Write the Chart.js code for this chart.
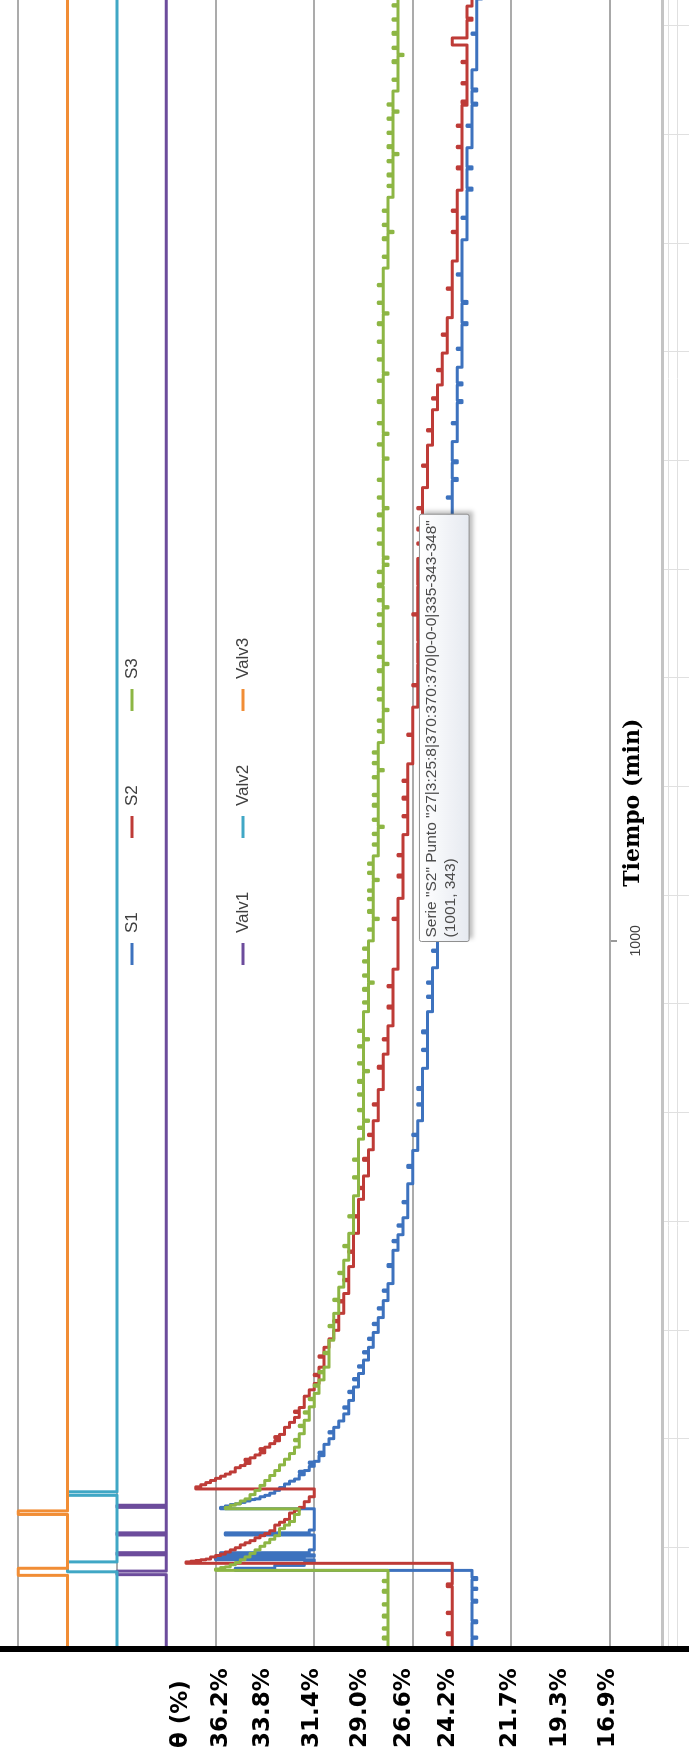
<!DOCTYPE html>
<html lang="es">
<head>
<meta charset="UTF-8">
<title>Humedad θ (%) frente a tiempo</title>
<script src="https://cdn.jsdelivr.net/npm/chart.js"></script>
<style>
  html, body { margin: 0; padding: 0; background: #fff; overflow: hidden; }
  body { width: 689px; height: 1760px; position: relative; }
  /* chart is laid out landscape, then turned a quarter turn to the left */
  #wrap {
    position: absolute; left: 0; top: 0;
    width: 1805px; height: 689px;
    transform-origin: 0 0;
    transform: translate(0, 1760px) rotate(-90deg);
  }
  #wrap canvas { display: block; }
</style>
</head>
<body>
<div id="wrap"><canvas id="chart" width="1805" height="689"></canvas></div>

<script>
// [tiempo (min), lectura] -- each point holds until the next one
const s1 = [[0,328],[15,327],[17,328],[37,327],[40,328],[66,327],[69,328],[84,327],[86,328],
  [98,327],[101,328],
  [111,376],[114,368],[118,362],[122,360],[126,380],[129,362],[131,360],
  [133,379],[136,361],[140,360],[161,378],[164,361],[168,360],
  [198,379],[200,378],[202,377],[204,376],[205,375],[207,374],[209,373],[211,372],[212,371],
  [215,370],[217,369],[220,368],[224,367],[228,366],[233,365],[237,364],[240,363],[246,362],
  [249,363],[251,362],[252,361],[258,360],[262,361],[264,360],[265,359],[273,358],[276,359],
  [278,358],[289,357],[297,356],[305,357],[307,356],[313,355],[322,354],[332,353],[340,354],
  [342,353],[351,352],[362,353],[364,352],[370,351],[380,352],[382,351],[389,350],[398,351],
  [400,350],[408,349],[418,350],[420,349],[426,348],[437,349],[439,348],[447,347],[458,348],
  [460,347],[468,346],[480,347],[482,346],[492,345],[505,346],[507,345],[516,344],[540,345],
  [543,344],[563,343],[575,344],[577,343],[585,342],[597,343],[599,342],[609,341],[630,342],
  [632,341],[657,340],[680,341],[683,340],[704,339],[725,340],[727,339],[746,338],[768,339],
  [770,338],[790,339],[793,338],[820,337],[845,338],[847,337],[870,338],[873,337],[900,336],
  [920,337],[922,336],[940,337],[942,336],[962,335],[985,336],[987,335],[1100,334],[1350,333],
  [1600,332],[1625,333],[1627,332],[1650,331],[1653,332],[1675,331],[1678,332],[1705,331],
  [1730,332],[1732,331],[1760,330],[1763,331],[1785,330],[1788,331],[1810,330],[1835,331],
  [1837,330],[1870,329],[1873,330],[1900,329],[1903,330],[1940,331],[1942,330],[1990,329],
  [2020,330],[2022,329],[2060,328],[2063,329],[2090,328],[2093,329],[2120,328],[2150,329],
  [2152,328],[2180,327],[2183,328],[2200,327],[2203,328],[2230,327],[2280,328],[2282,327],
  [2330,326],[2333,327],[2360,326],[2363,327],[2390,327]];

const s2 = [[0,332],[20,333],[23,332],[50,333],[52,332],[88,333],[92,332],
  [121,386],[123,385],[124,384],[125,383],[126,382],[127,381],[130,380],[132,379],[134,378],
  [137,377],[140,376],[143,375],[147,374],[150,373],[153,372],[157,371],[160,370],[163,369],
  [167,368],[175,367],[179,366],[183,365],[192,364],[196,363],[200,362],[208,361],[215,360],
  [226,384],[229,383],[232,382],[235,381],[238,380],[241,379],[244,378],[247,377],[250,376],
  [256,375],[259,374],[262,373],[266,374],[268,373],[270,372],[274,371],[277,370],[281,371],
  [283,370],[285,369],[290,368],[294,367],[298,368],[300,367],[303,366],[313,365],[320,364],
  [327,363],[334,364],[336,363],[341,362],[357,361],[366,360],[375,359],[386,360],[388,359],
  [398,358],[412,359],[414,358],[426,357],[438,356],[450,355],[462,356],[464,355],[474,354],
  [490,355],[492,354],[502,353],[520,354],[522,353],[540,352],[560,353],[562,352],[587,351],
  [610,352],[612,351],[635,350],[650,351],[652,350],[668,349],[690,350],[693,349],[705,348],
  [725,349],[727,348],[746,347],[768,348],[770,347],[790,346],[820,347],[823,346],[840,345],
  [860,346],[862,345],[880,344],[905,345],[908,344],[935,345],[937,344],[960,343],[1001,343],
  [1030,344],[1032,343],[1060,342],[1090,343],[1093,342],[1120,343],[1122,342],[1150,341],
  [1175,342],[1177,341],[1200,342],[1203,341],[1225,342],[1227,341],[1250,340],[1290,341],
  [1292,340],[1330,339],[1360,340],[1362,339],[1390,338],[1393,339],[1420,338],[1424,339],
  [1460,340],[1462,339],[1500,338],[1503,339],[1540,338],[1560,339],[1562,338],[1580,339],
  [1583,338],[1610,339],[1612,338],[1640,337],[1670,338],[1672,337],[1700,336],[1720,337],
  [1722,336],[1750,335],[1765,336],[1767,335],[1785,334],[1805,335],[1807,334],[1830,333],
  [1855,334],[1857,333],[1880,332],[1920,333],[1922,332],[1960,331],[2000,332],[2002,331],
  [2030,332],[2032,331],[2060,330],[2090,331],[2093,330],[2120,331],[2122,330],[2150,331],
  [2152,330],[2180,329],[2183,330],[2186,329],[2210,330],[2212,329],[2240,330],[2242,329],
  [2265,332],[2275,329],[2300,328],[2303,329],[2320,328],[2340,329],[2342,328],[2370,329],
  [2372,328],[2390,328]];

const s3 = [[0,345],[14,346],[17,345],[28,346],[30,345],[45,346],[48,345],[62,346],[64,345],
  [80,346],[83,345],[95,346],[97,345],
  [111,380],[113,379],[115,378],[116,377],[119,376],[122,375],[126,374],[130,373],[135,372],
  [140,371],[145,370],[150,369],[155,368],[160,367],[170,366],[175,365],[180,364],[190,363],
  [198,378],[200,377],[203,376],[205,375],[209,374],[212,373],[218,372],[224,371],[231,370],
  [238,369],[245,368],[252,367],[260,366],[268,365],[276,364],[285,363],[294,364],[296,363],
  [304,362],[314,363],[316,362],[323,361],[333,362],[335,361],[342,360],[352,361],[354,360],
  [361,359],[371,360],[373,359],[380,358],[390,359],[392,358],[398,357],[417,358],[419,357],
  [436,356],[455,357],[457,356],[474,355],[492,356],[494,355],[511,354],[530,355],[532,354],
  [549,353],[568,354],[570,353],[587,352],[610,353],[612,352],[640,351],[665,352],[667,351],
  [690,352],[692,351],[720,350],
  [735,351],[737,350],[745,349],[747,350],[760,351],[762,350],[782,351],[784,350],[800,351],
  [803,350],[815,349],[817,350],[826,351],[828,350],[850,351],[852,350],[860,349],[862,350],
  [872,351],[874,350],
  [900,349],[912,350],[914,349],[930,350],[933,349],[940,348],[942,349],[950,350],[952,349],
  [970,350],[972,349],[988,350],[990,349],
  [1000,348],[1015,349],[1017,348],[1030,347],[1032,348],[1040,349],[1043,348],[1058,349],
  [1060,348],[1070,349],[1072,348],[1085,347],[1087,348],[1095,349],[1097,348],[1108,349],
  [1110,348],
  [1120,347],[1135,348],[1137,347],[1150,348],[1152,347],[1160,346],[1162,347],[1170,348],
  [1172,347],[1190,348],[1193,347],[1205,348],[1207,347],[1230,348],[1232,347],[1240,346],
  [1242,347],[1250,348],[1252,347],[1265,348],[1267,347],
  [1280,346],[1295,347],[1297,346],[1310,347],[1312,346],[1325,345],[1327,346],[1340,347],
  [1342,346],[1355,347],[1357,346],[1380,347],[1383,346],[1390,345],[1392,346],[1400,347],
  [1402,346],[1420,347],[1422,346],[1445,347],[1447,346],[1460,347],[1462,346],[1470,345],
  [1472,346],[1480,347],[1482,346],[1500,347],[1504,346],[1520,347],[1522,346],[1530,345],
  [1532,346],[1540,345],[1542,346],[1560,347],[1562,346],[1580,347],[1582,346],[1600,347],
  [1603,346],[1610,345],[1612,346],[1625,347],[1627,346],[1650,347],[1652,346],[1680,345],
  [1682,346],[1700,347],[1702,346],[1715,345],[1717,346],[1730,347],[1732,346],[1760,347],
  [1763,346],[1790,347],[1792,346],[1800,345],[1802,346],[1820,347],[1822,346],[1845,347],
  [1847,346],[1870,347],[1873,346],[1885,345],[1887,346],[1900,347],[1902,346],[1925,347],
  [1927,346],
  [1950,345],[1965,346],[1967,345],[1990,346],[1993,345],[2000,344],[2002,345],[2010,346],
  [2012,345],[2030,346],[2032,345],
  [2050,344],[2065,345],[2067,344],[2080,345],[2083,344],[2100,345],[2102,344],[2110,343],
  [2112,344],[2120,345],[2123,344],[2140,345],[2142,344],[2160,345],[2162,344],[2170,343],
  [2172,344],[2180,345],[2182,344],
  [2200,343],[2215,344],[2217,343],[2240,344],[2243,343],[2250,342],[2252,343],[2260,344],
  [2262,343],[2280,344],[2283,343],[2300,344],[2302,343],[2320,344],[2322,343],
  [2340,342],[2355,343],[2357,342],[2375,343],[2377,342],[2390,342]];

const valv1 = [[0,390],[105,400],[110,390],[133,400],[136,390],[161,400],[164,390],
  [200,400],[203,390],[2390,390]];
const valv2 = [[0,400],[109,410],[123,400],[217,410],[222,400],[2390,400]];
const valv3 = [[0,410],[104,420],[114,410],[190,420],[195,410],[2390,410]];

const seriesNames = ['S1', 'S2', 'S3', 'Valv1', 'Valv2', 'Valv3'];
const seriesColors = ['#3D72BE', '#BE3B37', '#8DB644', '#6C4C9C', '#40A7C5', '#F18D35'];

// value axis: grid every 20 counts, moisture labels at their own spots
const gridAt = [300, 320, 340, 360, 380, 400, 420];
const thetaAt = [387, 378.9, 370.4, 360.5, 350.6, 341.7, 332.8, 320.2, 310.1, 300.4];
const thetaText = ['θ (%)', '36.2%', '33.8%', '31.4%', '29.0%', '26.6%', '24.2%', '21.7%', '19.3%', '16.9%'];

const timeTicks = [1000];

// hovered point shown in the tooltip
const tipPoint = [1001, 343];
const s2PointTag = '27|3:25:8|370:370:370|0-0-0|335-343-348';

const series = [s1, s2, s3, valv1, valv2, valv3];
const datasets = series.map((pts, i) => ({
  label: seriesNames[i],
  data: pts.map(p => ({ x: p[0], y: p[1] })),
  borderColor: seriesColors[i],
  backgroundColor: seriesColors[i],
  borderWidth: 3,
  borderJoinStyle: 'round',
  borderCapStyle: 'round',
  pointRadius: 0,
  pointHoverRadius: 0,
  pointHitRadius: 0,
  stepped: true,
  fill: false,
  order: series.length - i
}));

// spreadsheet cells peeking out past the chart frame
const sheetPlugin = {
  id: 'sheet',
  beforeDraw(chart) {
    const { ctx, chartArea } = chart;
    const x0 = chartArea.left;
    ctx.save();
    ctx.fillStyle = '#c4c4c4';
    ctx.fillRect(x0, 661, chart.width - x0, 3);
    ctx.strokeStyle = '#e0e0e0';
    ctx.lineWidth = 1;
    ctx.beginPath();
    [668.5, 677.5].forEach(v => { ctx.moveTo(x0, v); ctx.lineTo(chart.width, v); });
    for (let u = 212; u < chart.width; u += 108.7) {
      ctx.moveTo(Math.round(u) + 0.5, 664);
      ctx.lineTo(Math.round(u) + 0.5, 689);
    }
    ctx.stroke();
    ctx.restore();
  }
};

// heavy black value-axis line and the 3x2 legend block
const overlayPlugin = {
  id: 'overlay',
  afterDatasetsDraw(chart) {
    const ctx = chart.ctx;
    ctx.save();
    ctx.fillStyle = '#000';
    ctx.fillRect(chart.chartArea.left - 3, 9, 6, chart.height - 9);

    ctx.font = '17px "Liberation Sans", Arial, sans-serif';
    ctx.textBaseline = 'middle';
    chart.data.datasets.forEach((ds, i) => {
      const x = 795 + (i % 3) * 127;
      const y = 132 + Math.floor(i / 3) * 111;
      ctx.strokeStyle = ds.borderColor;
      ctx.lineWidth = 3;
      ctx.beginPath();
      ctx.moveTo(x, y);
      ctx.lineTo(x + 22, y);
      ctx.stroke();
      ctx.fillStyle = '#404040';
      ctx.fillText(ds.label, x + 32, y);
    });
    ctx.restore();
  },
  beforeTooltipDraw(chart, args) {
    const t = args.tooltip;
    if (!t.opacity) return;
    const ctx = chart.ctx;
    ctx.save();
    ctx.filter = 'blur(2px)';
    ctx.fillStyle = 'rgba(0,0,0,0.25)';
    ctx.fillRect(t.x + 3, t.y + 4, t.width, t.height);
    ctx.restore();
  }
};

Chart.Tooltip.positioners.atPoint = function (items) {
  if (!items.length) return false;
  return { x: items[0].element.x, y: items[0].element.y };
};

const canvas = document.getElementById('chart');
const tipFill = canvas.getContext('2d').createLinearGradient(0, 421, 0, 472);
tipFill.addColorStop(0, '#ffffff');
tipFill.addColorStop(1, '#e4e8ef');

const chart = new Chart(canvas, {
  type: 'line',
  data: { datasets },
  plugins: [sheetPlugin, overlayPlugin],
  options: {
    responsive: false,
    animation: false,
    events: [],
    layout: { padding: { left: 12, right: 0, top: 0, bottom: 0 } },
    plugins: {
      legend: { display: false },
      tooltip: {
        enabled: true,
        position: 'atPoint',
        xAlign: 'left',
        yAlign: 'top',
        caretSize: 0,
        caretPadding: 22,
        cornerRadius: 2,
        backgroundColor: tipFill,
        borderColor: '#8f8f8f',
        borderWidth: 1,
        displayColors: false,
        padding: { top: 3, bottom: 9, left: 4, right: 6 },
        bodyColor: '#4b4b4b',
        bodyFont: { family: '"Liberation Sans", Arial, sans-serif', size: 15.5, lineHeight: 1.15 },
        callbacks: {
          title: () => [],
          label: c => [
            `Serie "${c.dataset.label}" Punto "${s2PointTag}"`,
            `(${c.parsed.x}, ${c.parsed.y})`
          ]
        }
      }
    },
    scales: {
      x: {
        type: 'linear',
        position: 'bottom',
        min: 0,
        max: 2390,
        afterBuildTicks: s => { s.ticks = timeTicks.map(v => ({ value: v })); },
        afterFit: s => { s.height = 79; },
        grid: { drawOnChartArea: false, drawTicks: true, tickLength: 7, color: '#9a9a9a', lineWidth: 2 },
        border: { display: true, color: '#a8a8a8', width: 2 },
        ticks: {
          padding: 11,
          maxRotation: 0,
          color: '#404040',
          font: { family: '"Liberation Sans", Arial, sans-serif', size: 14 },
          callback: v => String(v)
        },
        title: {
          display: true,
          text: 'Tiempo (min)',
          color: '#000',
          font: { family: '"DejaVu Serif", serif', size: 22, weight: 'bold' },
          padding: { top: 0, bottom: 43 }
        }
      },
      y: {
        type: 'linear',
        position: 'left',
        min: 300,
        max: 423.4,
        afterBuildTicks: s => {
          s.ticks = gridAt.concat(thetaAt).sort((a, b) => a - b).map(v => ({ value: v }));
        },
        afterFit: s => { s.width = 99; s.paddingTop = 0; s.paddingBottom = 0; },
        grid: {
          color: c => (c.tick && gridAt.includes(c.tick.value)) ? '#ababab' : 'rgba(0,0,0,0)',
          lineWidth: 2,
          drawTicks: false
        },
        border: { display: true, color: '#000', width: 6 },
        ticks: {
          autoSkip: false,
          crossAlign: 'far',
          padding: 0,
          color: '#000',
          font: { family: '"DejaVu Sans", sans-serif', size: 23, weight: 'bold' },
          callback: v => {
            const k = thetaAt.indexOf(v);
            return k < 0 ? '' : thetaText[k];
          }
        }
      }
    }
  }
});

const tipIndex = s2.findIndex(p => p[0] === tipPoint[0] && p[1] === tipPoint[1]);
chart.tooltip.setActiveElements([{ datasetIndex: 1, index: tipIndex }], { x: 0, y: 0 });
chart.update();
</script>
</body>
</html>
